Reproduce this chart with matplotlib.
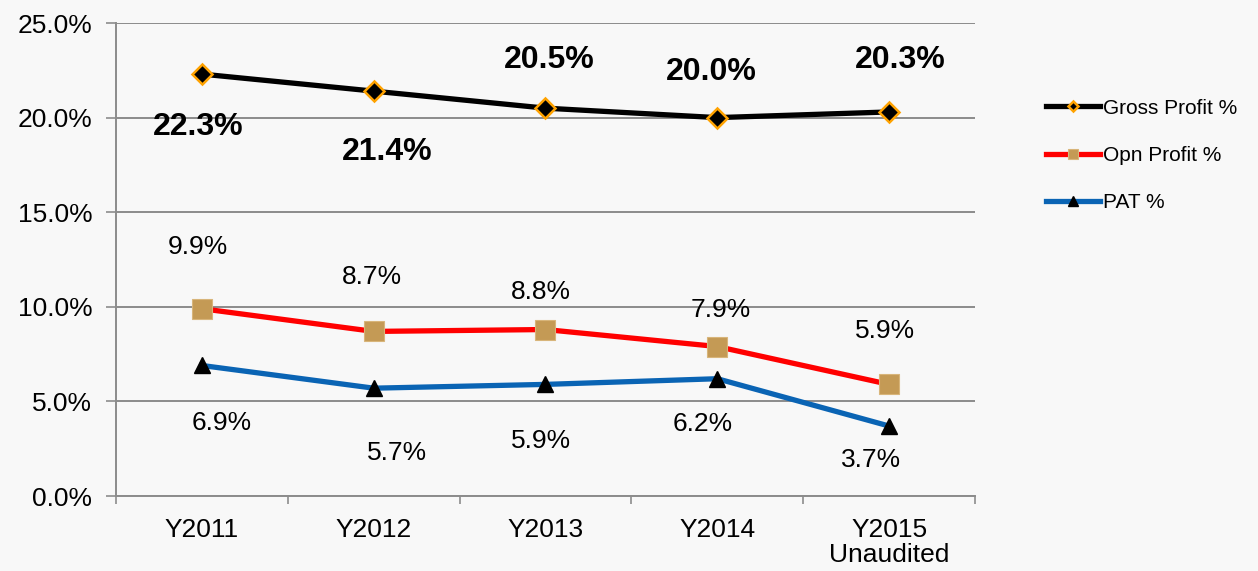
import matplotlib.pyplot as plt
from matplotlib.ticker import FuncFormatter, FixedLocator

plt.rcParams["font.family"] = ["Liberation Sans", "DejaVu Sans"]

anni = ["Y2011", "Y2012", "Y2013", "Y2014", "Y2015\nUnaudited"]
profitto_lordo = [22.3, 21.4, 20.5, 20.0, 20.3]
profitto_operativo = [9.9, 8.7, 8.8, 7.9, 5.9]
pat = [6.9, 5.7, 5.9, 6.2, 3.7]

# spostamenti delle etichette in pixel (x, y)
sposta_lordo = [(-4, -53), (14, -61), (4, 48), (-6, 46), (11, 52)]
sposta_operativo = [(-4, 62), (-2, 54), (-5, 38), (3, 37), (-4, 53)]
sposta_pat = [(20, -58), (23, -65), (-4, -57), (-15, -45), (-18, -34)]

sfondo = "#f8f8f8"
fig = plt.figure(figsize=(12.58, 5.71), dpi=100, facecolor=sfondo)
ax = fig.add_axes([0.0922, 0.1313, 0.6828, 0.8284])
ax.set_facecolor(sfondo)

x = list(range(len(anni)))
ax.plot(x, profitto_lordo, color="black", lw=3.8, marker="D", ms=10,
        mfc="black", mec="#ffa200", mew=1.8, label="Gross Profit %", zorder=5)
ax.plot(x, profitto_operativo, color="#ff0000", lw=3.8, marker="s", ms=14,
        mfc="#c49a55", mec="#d8b57a", mew=0.8, label="Opn Profit %", zorder=4)
ax.plot(x, pat, color="#0a64b4", lw=3.8, marker="^", ms=12,
        mfc="black", mec="black", label="PAT %", zorder=4)

for serie, spost, stile in [
    (profitto_lordo, sposta_lordo, dict(fontsize=23, fontweight="bold")),
    (profitto_operativo, sposta_operativo, dict(fontsize=19)),
    (pat, sposta_pat, dict(fontsize=19)),
]:
    for i, v in enumerate(serie):
        ax.annotate(f"{v:.1f}%", (x[i], v), xytext=spost[i], textcoords="offset pixels",
                    ha="center", va="center", **stile)

ax.set_xlim(-0.5, len(anni) - 0.5)
ax.set_ylim(0, 25)
ax.set_yticks([0, 5, 10, 15, 20, 25])
ax.yaxis.set_major_formatter(FuncFormatter(lambda v, _: f"{v:.1f}%"))
ax.set_xticks(x)
ax.set_xticklabels(anni, linespacing=1.05)
ax.xaxis.set_minor_locator(FixedLocator([i - 0.5 for i in range(len(anni) + 1)]))

ax.grid(axis="y", color="#8c8c8c", lw=1.4)
ax.set_axisbelow(True)
for lato in ["top", "right"]:
    ax.spines[lato].set_visible(False)
for lato in ["left", "bottom"]:
    ax.spines[lato].set_color("#8c8c8c")
    ax.spines[lato].set_linewidth(1.4)

ax.tick_params(axis="y", length=7, width=1.2, color="#8c8c8c", labelsize=19, pad=10)
ax.tick_params(axis="x", which="major", length=0, labelsize=19, pad=16)
ax.tick_params(axis="x", which="minor", length=6, width=1.2, color="#8c8c8c")

fig.legend(loc="upper left", bbox_to_anchor=(0.8165, 0.86), frameon=False,
           fontsize=15, handlelength=2.6, handletextpad=0.15, labelspacing=1.36,
           markerscale=0.55)

fig.savefig("out.png", dpi=100, facecolor=sfondo)
